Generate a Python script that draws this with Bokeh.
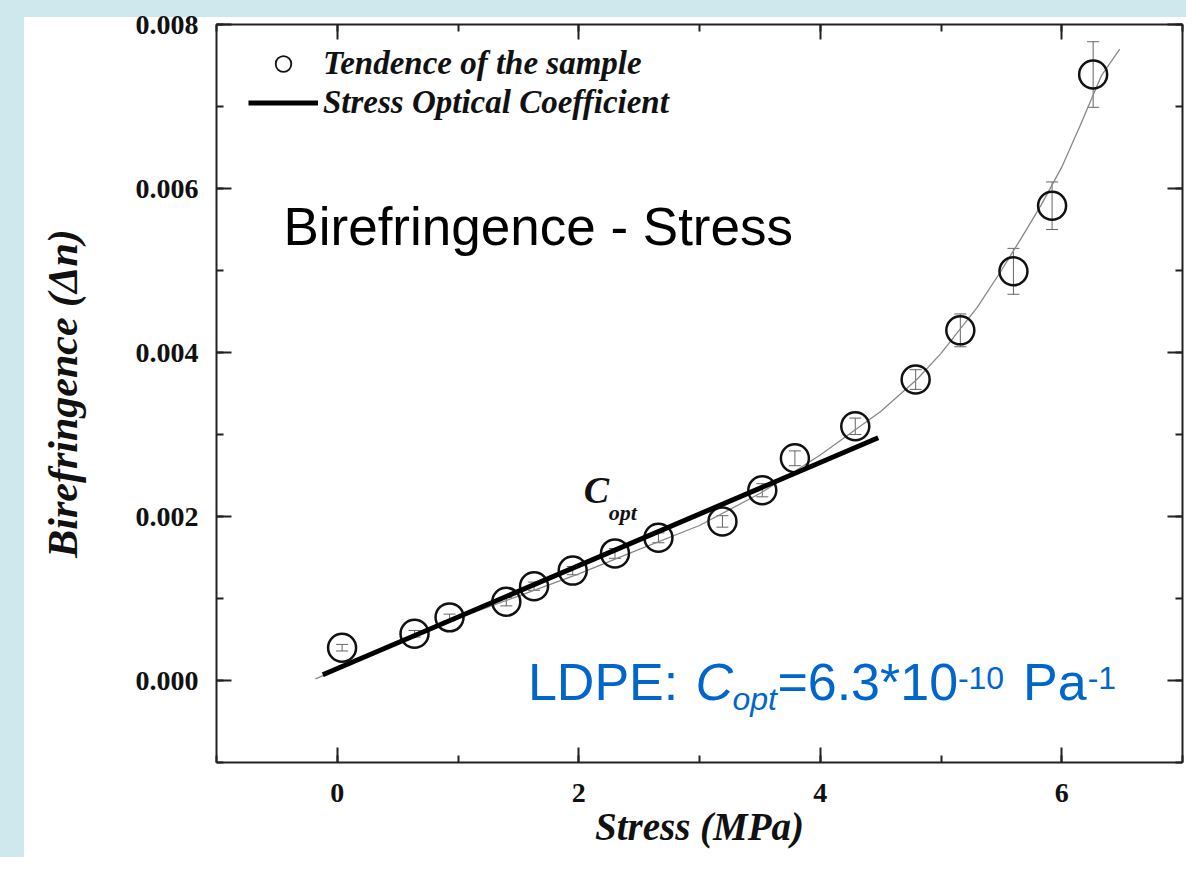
from bokeh.plotting import figure
from bokeh.models import (ColumnDataSource, Range1d, LinearAxis, SingleIntervalTicker,
                          NumeralTickFormatter, CustomJSTickFormatter, Whisker, TeeHead,
                          Label, Legend, LegendItem)
from bokeh.embed import file_html
from bokeh.resources import INLINE

# ---- data ----
stress = [0.04, 0.64, 0.93, 1.40, 1.63, 1.95, 2.30, 2.66, 3.19, 3.52, 3.79, 4.29,
          4.79, 5.16, 5.60, 5.92, 6.26]
birefringence = [0.00040, 0.00057, 0.00077, 0.00096, 0.00115, 0.00134, 0.00155,
                 0.00174, 0.00194, 0.00232, 0.00271, 0.00310, 0.00367, 0.00427,
                 0.00499, 0.00579, 0.00739]
error = [0.00004, 0.00004, 0.00004, 0.00005, 0.00005, 0.00005, 0.00006, 0.00006,
         0.00007, 0.00008, 0.00009, 0.00010, 0.00012, 0.00020, 0.00028, 0.00029,
         0.00040]

trend_stress = [-0.18, 0.5, 1.0, 1.5, 2.0, 2.5, 3.0, 3.5, 4.0, 4.5, 4.8, 5.0, 5.3,
                5.5, 5.7, 5.83, 6.0, 6.15, 6.33, 6.48]
trend_biref = [0.00002, 0.00045, 0.00076, 0.00103, 0.00130, 0.00160, 0.00189,
               0.00228, 0.00275, 0.00328, 0.00367, 0.00399, 0.00455, 0.00500,
               0.00548, 0.00580, 0.00626, 0.00676, 0.00738, 0.00770]

coeff_stress = [-0.12, 4.48]
coeff_biref = [0.00007, 0.00296]

x_ticks_interval = 2
y_ticks_interval = 0.002

SERIF = "Liberation Serif"
SANS = "Liberation Sans"
BLUE = "#0066CC"
STRIP = "#CFE8EE"

p = figure(width=1186, height=857, output_backend="svg", toolbar_location=None,
           x_range=Range1d(-1, 7), y_range=Range1d(-0.001, 0.008 + 1e-9),
           x_axis_label="Stress (MPa)", y_axis_label="Birefringence (\u0394n)",
           min_border_left=216, min_border_top=24, min_border_right=4,
           min_border_bottom=95)
p.grid.visible = False
p.outline_line_color = None
p.background_fill_color = "white"
p.border_fill_color = None
# slide-background strips along the left and top edges (CSS background behind the canvas)
p.styles = {"background": (f"linear-gradient(to right, {STRIP} 0px, {STRIP} 24px, "
                           f"rgba(255,255,255,0) 24px), "
                           f"linear-gradient(to bottom, {STRIP} 0px, {STRIP} 17px, "
                           f"white 17px)")}

bottom_axis = p.below[0]
left_axis = p.left[0]

xt = SingleIntervalTicker(interval=x_ticks_interval, num_minor_ticks=2)
yt = SingleIntervalTicker(interval=y_ticks_interval, num_minor_ticks=2)
bottom_axis.ticker = xt
left_axis.ticker = yt
left_axis.formatter = NumeralTickFormatter(format="0.000")

top_axis = LinearAxis(ticker=xt, formatter=CustomJSTickFormatter(code="return ''"))
right_axis = LinearAxis(ticker=yt, formatter=CustomJSTickFormatter(code="return ''"))
p.add_layout(top_axis, "above")
p.add_layout(right_axis, "right")

for ax in [bottom_axis, left_axis, top_axis, right_axis]:
    ax.axis_line_width = 2
    ax.axis_line_color = "#222222"
    ax.major_tick_line_width = 2
    ax.major_tick_line_color = "#222222"
    ax.minor_tick_line_width = 2
    ax.minor_tick_line_color = "#222222"
    ax.major_tick_in = 15
    ax.major_tick_out = 0
    ax.minor_tick_in = 7
    ax.minor_tick_out = 0
    ax.major_label_text_font = SERIF
    ax.major_label_text_font_style = "bold"
    ax.major_label_text_font_size = "28px"
    ax.major_label_text_color = "#111111"
    ax.axis_label_text_font = SERIF
    ax.axis_label_text_font_style = "bold italic"
    ax.axis_label_text_color = "#111111"

top_axis.major_label_standoff = 0
right_axis.major_label_standoff = 0
bottom_axis.axis_label_text_font_size = "39px"
left_axis.axis_label_text_font_size = "42px"
bottom_axis.major_label_standoff = 21
bottom_axis.axis_label_standoff = 0
left_axis.major_label_standoff = 18
left_axis.axis_label_standoff = 47

# trend curve
p.line(trend_stress, trend_biref, line_color="#888888", line_width=1.3)

# error bars
upper = [b + e for b, e in zip(birefringence, error)]
lower = [b - e for b, e in zip(birefringence, error)]
src = ColumnDataSource(data=dict(x=stress, y=birefringence, upper=upper, lower=lower))
wh = Whisker(source=src, base="x", upper="upper", lower="lower",
             line_color="#666666", line_width=1,
             upper_head=TeeHead(size=12, line_color="#666666", line_width=1),
             lower_head=TeeHead(size=12, line_color="#666666", line_width=1))
p.add_layout(wh)

# data circles
p.scatter("x", "y", source=src, marker="circle", size=28, fill_alpha=0,
          line_color="#111111", line_width=2.5)

# stress optical coefficient line
coeff_r = p.line(coeff_stress, coeff_biref, line_color="#000000", line_width=5)

# legend proxy for the small circle (not drawn in the plot area)
nan = float("nan")
proxy = p.scatter(x=[nan], y=[nan], marker="circle", size=13, fill_alpha=0,
                  line_color="#111111", line_width=1.8)

legend = Legend(items=[LegendItem(label="Tendence of the sample", renderers=[proxy]),
                       LegendItem(label="Stress Optical Coefficient", renderers=[coeff_r])],
                location=(32, 640), glyph_width=70, glyph_height=39, label_height=39,
                label_standoff=5, spacing=0, padding=0, margin=0,
                border_line_alpha=0, background_fill_alpha=0,
                label_text_font=SERIF, label_text_font_style="bold italic",
                label_text_font_size="33px", label_text_color="#111111")
p.add_layout(legend, "center")

# C_opt annotation
p.add_layout(Label(x=2.041, y=0.002061, text="C", text_font=SERIF,
                   text_font_style="bold italic", text_font_size="38px",
                   text_baseline="bottom", text_color="#111111"))
p.add_layout(Label(x=2.248, y=0.001902, text="opt", text_font=SERIF,
                   text_font_style="bold italic", text_font_size="22px",
                   text_baseline="bottom", text_color="#111111"))

# title text
p.add_layout(Label(x=-0.446, y=0.005171, text="Birefringence - Stress", text_font=SANS,
                   text_font_size="53px", text_baseline="bottom",
                   text_color="#000000"))

# blue LDPE annotation
base_y = -0.000378
sub_y = -0.000451
sup_y = -0.000100
pieces = [
    (1.579, base_y, "LDPE:", "normal", "52px"),
    (2.967, base_y, "C", "italic", "52px"),
    (3.273, sub_y, "opt", "italic", "32px"),
    (3.645, base_y, "=6.3*10", "normal", "52px"),
    (5.140, sup_y, "-10", "normal", "32px"),
    (5.680, base_y, "Pa", "normal", "52px"),
    (6.215, sup_y, "-1", "normal", "32px"),
]
for x, y, t, st, fs in pieces:
    p.add_layout(Label(x=x, y=y, text=t, text_font=SANS, text_font_style=st,
                       text_font_size=fs, text_baseline="bottom",
                       text_color=BLUE))

open("out.html", "w").write(file_html(p, INLINE))
